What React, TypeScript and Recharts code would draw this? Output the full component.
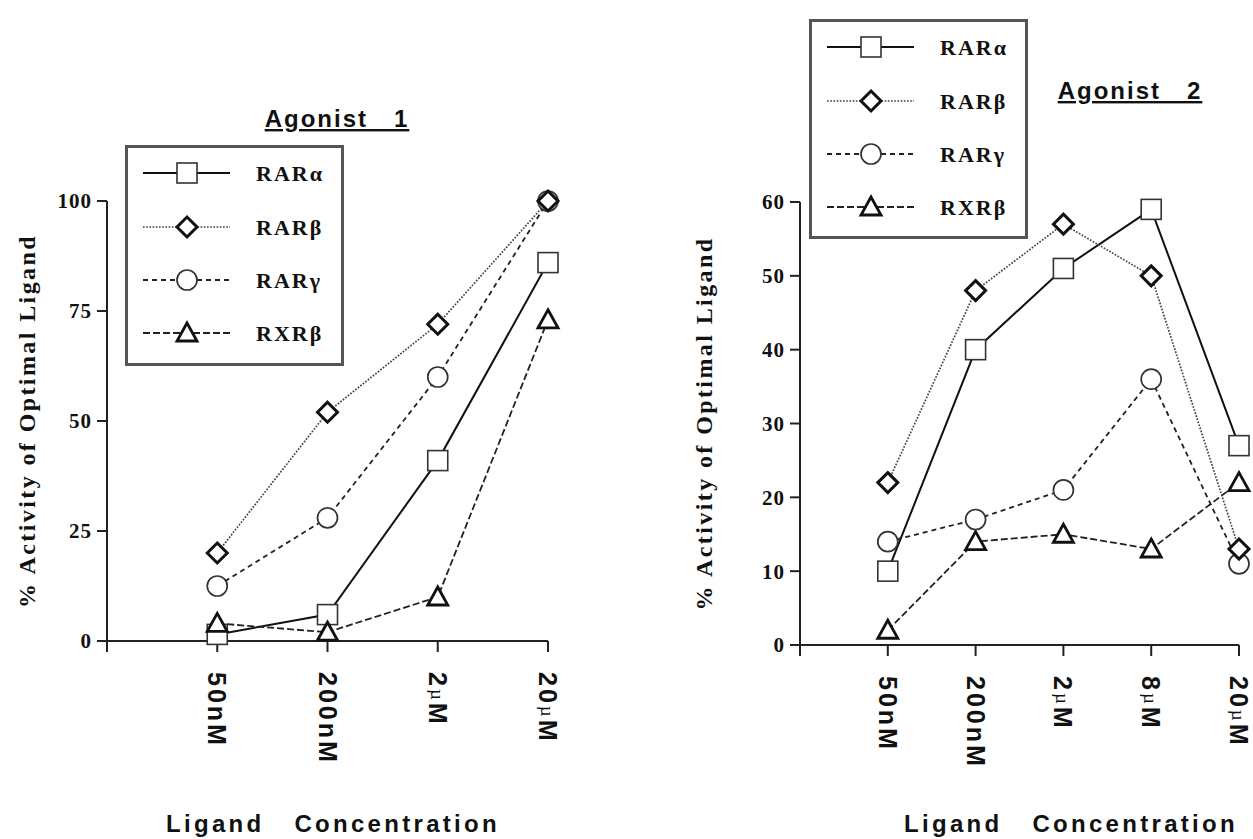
import React from 'react';
import { LineChart, Line, XAxis, YAxis } from 'recharts';

// ---- data ----
const agonist1Conc = ['50nM', '200nM', '2µM', '20µM'];
const agonist1RARa = [1.5, 6, 41, 86];
const agonist1RARb = [20, 52, 72, 100];
const agonist1RARg = [12.5, 28, 60, 100];
const agonist1RXRb = [4, 2, 10, 73];
const agonist1YTicks = [0, 25, 50, 75, 100];

const agonist2Conc = ['50nM', '200nM', '2µM', '8µM', '20µM'];
const agonist2RARa = [10, 40, 51, 59, 27];
const agonist2RARb = [22, 48, 57, 50, 13];
const agonist2RARg = [14, 17, 21, 36, 11];
const agonist2RXRb = [2, 14, 15, 13, 22];
const agonist2YTicks = [0, 10, 20, 30, 40, 50, 60];

const buildRows = (conc: string[], a: number[], b: number[], g: number[], x: number[]) =>
  conc.map((c, i) => ({ pos: i + 1, conc: c, RARa: a[i], RARb: b[i], RARg: g[i], RXRb: x[i] }));

const rows1 = buildRows(agonist1Conc, agonist1RARa, agonist1RARb, agonist1RARg, agonist1RXRb);
const rows2 = buildRows(agonist2Conc, agonist2RARa, agonist2RARb, agonist2RARg, agonist2RXRb);

type Shape = 'square' | 'diamond' | 'circle' | 'triangle';

const series: { key: string; name: string; stroke: string; width: number; dash?: string; shape: Shape }[] = [
  { key: 'RARa', name: 'RARα', stroke: '#111', width: 2, shape: 'square' },
  { key: 'RARb', name: 'RARβ', stroke: '#444', width: 1.7, dash: '1.7 1.5', shape: 'diamond' },
  { key: 'RARg', name: 'RARγ', stroke: '#222', width: 1.8, dash: '5 4', shape: 'circle' },
  { key: 'RXRb', name: 'RXRβ', stroke: '#222', width: 1.8, dash: '7 3', shape: 'triangle' },
];
// draw order: later ones sit on top
const drawOrder = ['RARa', 'RXRb', 'RARg', 'RARb'];

const SERIF = '"Liberation Serif", "Times New Roman", serif';
const SANS = '"Liberation Sans", Arial, sans-serif';
const AXIS = '#222';
const PAGE_H = 839;
const Y_AXIS_W = 60;
const X_AXIS_H = 190;

function Marker({ shape, cx, cy }: { shape: Shape; cx: number; cy: number }) {
  if (cx == null || cy == null) return null;
  switch (shape) {
    case 'square':
      return <rect x={cx - 10} y={cy - 10} width={20} height={20} fill="#fff" stroke="#333" strokeWidth={1.6} />;
    case 'diamond':
      return (
        <polygon
          points={`${cx},${cy - 10} ${cx + 10},${cy} ${cx},${cy + 10} ${cx - 10},${cy}`}
          fill="#fff" stroke="#111" strokeWidth={3} strokeLinejoin="miter"
        />
      );
    case 'circle':
      return <circle cx={cx} cy={cy} r={10} fill="#fff" stroke="#333" strokeWidth={1.7} />;
    default:
      return (
        <polygon
          points={`${cx},${cy - 10} ${cx + 10},${cy + 8} ${cx - 10},${cy + 8}`}
          fill="#fff" stroke="#111" strokeWidth={2.8} strokeLinejoin="miter"
        />
      );
  }
}

const ConcTick = (props: any) => {
  const { x, y, payload, labels } = props;
  const label: string | undefined = labels[payload.value - 1];
  if (!label) return null;
  const ty = y + 18;
  const parts = label.split('µ');
  return (
    <text
      x={x} y={ty} transform={`rotate(90, ${x}, ${ty})`}
      textAnchor="start" dominantBaseline="central"
      fontFamily={SANS} fontWeight={700} fontSize={25} letterSpacing={3} fill="#111"
    >
      {parts[0]}
      {parts.length > 1 && (
        <tspan fontFamily={SERIF} fontWeight={400} fontSize={19}>µ</tspan>
      )}
      {parts.length > 1 && parts[1]}
    </text>
  );
};

interface PanelProps {
  left: number;
  width: number;
  plotLeft: number;
  plotRight: number;
  plotTop: number;
  plotBottom: number;
  rows: Record<string, unknown>[];
  conc: string[];
  yTicks: number[];
  yLabelX: number;
  xTitleX: number;
}

function Panel({ left, width, plotLeft, plotRight, plotTop, plotBottom, rows, conc, yTicks, yLabelX, xTitleX }: PanelProps) {
  const xTicks = [0, ...conc.map((_, i) => i + 1)];
  const yMid = (plotTop + plotBottom) / 2;
  return (
    <div style={{ position: 'absolute', left, top: 0, width, height: PAGE_H }}>
      <LineChart
        width={width}
        height={PAGE_H}
        data={rows}
        margin={{ top: plotTop, right: width - plotRight, bottom: PAGE_H - plotBottom - X_AXIS_H, left: plotLeft - Y_AXIS_W }}
      >
        <XAxis
          type="number" dataKey="pos" domain={[0, conc.length]} ticks={xTicks} interval={0}
          height={X_AXIS_H} tickSize={11}
          axisLine={{ stroke: AXIS, strokeWidth: 2 }} tickLine={{ stroke: AXIS, strokeWidth: 2 }}
          tick={<ConcTick labels={conc} />}
          label={{
            content: () => (
              <text
                x={xTitleX} y={832} textAnchor="middle"
                fontFamily={SANS} fontWeight={700} fontSize={24} letterSpacing={3.3} fill="#111"
                style={{ whiteSpace: 'pre' }}
              >
                {'Ligand   Concentration'}
              </text>
            ),
          }}
        />
        <YAxis
          type="number" domain={[yTicks[0], yTicks[yTicks.length - 1]]} ticks={yTicks} interval={0}
          width={Y_AXIS_W} tickSize={10} tickMargin={5}
          axisLine={{ stroke: AXIS, strokeWidth: 2 }} tickLine={{ stroke: AXIS, strokeWidth: 2 }}
          tick={{ fontFamily: SERIF, fontWeight: 700, fontSize: 21, fill: '#111', letterSpacing: 1 }}
          label={{
            content: () => (
              <text
                x={yLabelX} y={yMid} transform={`rotate(-90, ${yLabelX}, ${yMid})`}
                textAnchor="middle" dominantBaseline="central"
                fontFamily={SERIF} fontWeight={700} fontSize={24} letterSpacing={2.4} fill="#111"
              >
                % Activity of Optimal Ligand
              </text>
            ),
          }}
        />
        {drawOrder.map((k) => {
          const s = series.find((d) => d.key === k)!;
          return (
            <Line
              key={s.key}
              type="linear"
              dataKey={s.key}
              name={s.name}
              stroke={s.stroke}
              strokeWidth={s.width}
              strokeDasharray={s.dash}
              isAnimationActive={false}
              dot={(p: any) => <Marker key={`${s.key}-${p.index}`} shape={s.shape} cx={p.cx} cy={p.cy} />}
              activeDot={false}
            />
          );
        })}
      </LineChart>
    </div>
  );
}

function LegendBox({ x, y, w, h }: { x: number; y: number; w: number; h: number }) {
  const rowsY = [28, 82, 135, 188];
  return (
    <g transform={`translate(${x}, ${y})`}>
      <rect x={1.5} y={1.5} width={w - 3} height={h - 3} fill="#fff" stroke="#555" strokeWidth={3} />
      {series.map((s, i) => (
        <g key={s.key}>
          <line
            x1={18} x2={105} y1={rowsY[i]} y2={rowsY[i]}
            stroke={s.stroke} strokeWidth={s.width} strokeDasharray={s.dash}
          />
          <Marker shape={s.shape} cx={62} cy={rowsY[i]} />
          <text
            x={131} y={rowsY[i]} dominantBaseline="central"
            fontFamily={SERIF} fontWeight={700} fontSize={22} letterSpacing={2} fill="#111"
          >
            {s.name}
          </text>
        </g>
      ))}
    </g>
  );
}

export default function App() {
  return (
    <div style={{ position: 'absolute', left: 0, top: 0, width: 1253, height: PAGE_H, background: '#fff', overflow: 'hidden' }}>
      <Panel
        left={0} width={620}
        plotLeft={107} plotRight={548} plotTop={201} plotBottom={641}
        rows={rows1} conc={agonist1Conc} yTicks={agonist1YTicks}
        yLabelX={27} xTitleX={333}
      />
      <Panel
        left={640} width={613}
        plotLeft={160} plotRight={599} plotTop={202} plotBottom={645}
        rows={rows2} conc={agonist2Conc} yTicks={agonist2YTicks}
        yLabelX={64} xTitleX={431}
      />
      <svg width={1253} height={PAGE_H} style={{ position: 'absolute', left: 0, top: 0, pointerEvents: 'none' }}>
        <text
          x={337} y={127} textAnchor="middle" fontFamily={SANS} fontWeight={700} fontSize={24}
          letterSpacing={2} fill="#111" style={{ whiteSpace: 'pre', textDecoration: 'underline' }}
        >
          {'Agonist   1'}
        </text>
        <text
          x={1130} y={99} textAnchor="middle" fontFamily={SANS} fontWeight={700} fontSize={24}
          letterSpacing={2} fill="#111" style={{ whiteSpace: 'pre', textDecoration: 'underline' }}
        >
          {'Agonist   2'}
        </text>
        <LegendBox x={125} y={145} w={219} h={221} />
        <LegendBox x={809} y={19} w={219} h={220} />
      </svg>
    </div>
  );
}
